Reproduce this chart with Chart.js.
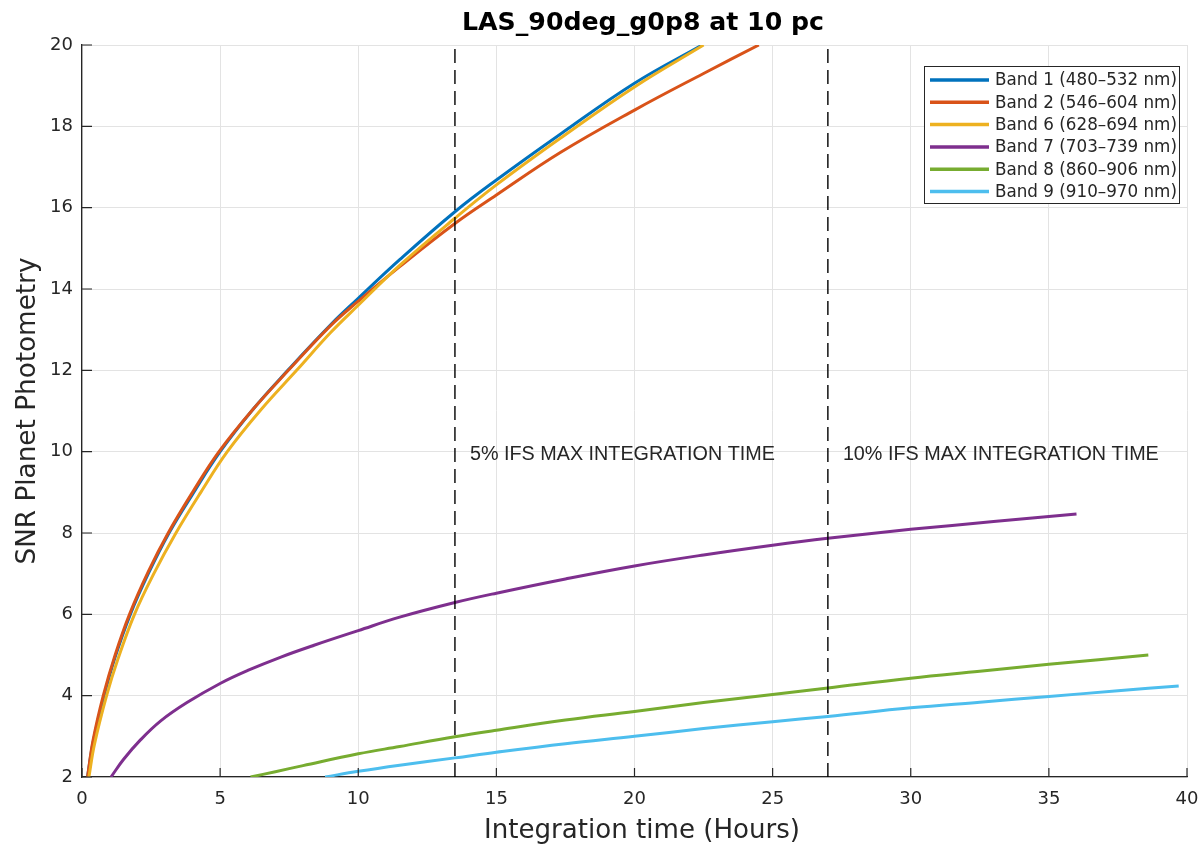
<!DOCTYPE html>
<html>
<head>
<meta charset="utf-8">
<script src="https://cdn.jsdelivr.net/npm/chart.js@4.4.1/dist/chart.umd.min.js"></script>
<style>
  html, body { margin: 0; padding: 0; background: #fff; }
  canvas { display: block; }
</style>
</head>
<body>
<canvas id="chart" width="1204" height="846"></canvas>
<script>
const chartTitle = 'LAS_90deg_g0p8 at 10 pc'
const xTitle = 'Integration time (Hours)'
const yTitle = 'SNR Planet Photometry'

const bandLabels = [
    'Band 1 (480–532 nm)',
    'Band 2 (546–604 nm)',
    'Band 6 (628–694 nm)',
    'Band 7 (703–739 nm)',
    'Band 8 (860–906 nm)',
    'Band 9 (910–970 nm)'
]
const bandColors = ['#0072BD', '#D95319', '#EDB120', '#7E2F8E', '#77AC30', '#4DBEEE']

// integration time (hours) and SNR
const band1Time = [0.2, 0.4, 0.8, 1.2, 1.75, 2.4, 3.15, 4, 5, 6.2, 7.45, 9, 10, 11.5, 13.5, 15, 17.3, 20, 22.45]
const band1Snr  = [2, 2.85, 4, 4.95, 6, 7.0, 8, 8.95, 10, 11.05, 12, 13.12, 13.77, 14.72, 15.9, 16.68, 17.8, 19.06, 20]

const band2Time = [0.2, 0.4, 0.77, 1.2, 1.72, 2.4, 3.12, 4, 4.96, 6.2, 7.47, 9, 10, 11.5, 13.5, 15, 17.3, 20, 22.5, 24.5]
const band2Snr  = [2, 2.9, 4, 5.0, 6, 7.05, 8, 9.0, 10, 11.05, 12, 13.1, 13.7, 14.55, 15.61, 16.31, 17.35, 18.4, 19.3, 20]

const band6Time = [0.25, 0.45, 0.89, 1.3, 1.9, 2.6, 3.4, 4.3, 5.26, 6.5, 7.77, 9, 10, 11.5, 13.5, 15, 17.3, 20, 22.5]
const band6Snr  = [2, 2.8, 4, 4.9, 6, 7.0, 8, 9.0, 10, 11.05, 12, 12.93, 13.6, 14.58, 15.74, 16.56, 17.7, 18.97, 20]

const band7Time = [1.05, 1.5, 2.1, 2.85, 3.8, 5, 6, 7.2, 8.4, 10, 11.5, 13.5, 15, 17.5, 20, 22.5, 25, 27, 30, 33, 36]
const band7Snr  = [2, 2.43, 2.9, 3.38, 3.83, 4.3, 4.62, 4.95, 5.24, 5.6, 5.93, 6.29, 6.52, 6.87, 7.19, 7.46, 7.7, 7.87, 8.09, 8.28, 8.47]

const band8Time = [6.1, 7, 8, 10, 11.5, 13.5, 15, 17.5, 20, 22.5, 25, 27, 30, 32.5, 35, 38.6]
const band8Snr  = [2, 2.13, 2.28, 2.57, 2.75, 2.99, 3.15, 3.4, 3.61, 3.83, 4.03, 4.19, 4.43, 4.6, 4.77, 5.0]

const band9Time = [8.8, 10, 11.5, 13.5, 15, 17.5, 20, 22.5, 25, 27, 30, 32.5, 35, 37.5, 39.7]
const band9Snr  = [2, 2.14, 2.29, 2.47, 2.61, 2.82, 3.0, 3.19, 3.36, 3.49, 3.7, 3.84, 3.98, 4.12, 4.24]

const bandTimes = [band1Time, band2Time, band6Time, band7Time, band8Time, band9Time]
const bandSnrs = [band1Snr, band2Snr, band6Snr, band7Snr, band8Snr, band9Snr]

// 5% and 10% of the IFS max integration time
const limitTimes = [13.5, 27]
const limitLabels = ['5% IFS MAX INTEGRATION TIME', '10% IFS MAX INTEGRATION TIME']

const xMin = 0, xMax = 40, xStep = 5
const yMin = 2, yMax = 20, yStep = 2

const ink = '#262626'
const tickFont = { family: 'DejaVu Sans', size: 18 }

// font size that makes text come out at a given width
function fitSize(ctx, text, weight, family, width) {
    ctx.font = weight + ' 100px ' + family
    return 100 * width / ctx.measureText(text).width
}

const datasets = bandLabels.map((label, i) => ({
    label: label,
    data: bandTimes[i].map((t, j) => ({ x: t, y: bandSnrs[i][j] })),
    borderColor: bandColors[i],
    borderWidth: 3,
    pointRadius: 0,
    showLine: true,
    tension: 0.4,
    order: 10 - i
}))

limitTimes.forEach(t => {
    datasets.push({
        label: '',
        data: [{ x: t, y: yMin }, { x: t, y: yMax }],
        borderColor: '#000',
        borderWidth: 1.4,
        borderDash: [14, 7],
        pointRadius: 0,
        showLine: true,
        order: 0
    })
})

const overlay = {
    id: 'overlay',
    afterDraw(chart) {
        const { ctx, chartArea: a, scales: { x, y } } = chart
        ctx.save()

        // inward tick marks
        ctx.strokeStyle = ink
        ctx.lineWidth = 1.2
        ctx.beginPath()
        x.ticks.forEach(t => {
            const px = x.getPixelForValue(t.value)
            ctx.moveTo(px, a.bottom)
            ctx.lineTo(px, a.bottom - 9)
        })
        y.ticks.forEach(t => {
            const py = y.getPixelForValue(t.value)
            ctx.moveTo(a.left, py)
            ctx.lineTo(a.left + 10, py)
        })
        ctx.stroke()

        // title
        ctx.fillStyle = '#000'
        let size = fitSize(ctx, chartTitle, 'bold', 'DejaVu Sans', 362)
        ctx.font = 'bold ' + size + 'px DejaVu Sans'
        ctx.textAlign = 'center'
        ctx.textBaseline = 'alphabetic'
        ctx.fillText(chartTitle, 643, 30)

        // axis titles
        ctx.fillStyle = ink
        size = fitSize(ctx, xTitle, 'normal', 'DejaVu Sans', 316)
        ctx.font = size + 'px DejaVu Sans'
        ctx.textBaseline = 'middle'
        ctx.fillText(xTitle, 642, 831)

        size = fitSize(ctx, yTitle, 'normal', 'DejaVu Sans', 307)
        ctx.save()
        ctx.translate(28, 411)
        ctx.rotate(-Math.PI / 2)
        ctx.font = size + 'px DejaVu Sans'
        ctx.fillText(yTitle, 0, 0)
        ctx.restore()

        // limit labels
        ctx.textAlign = 'left'
        const narrow = '"Liberation Sans Narrow", "Liberation Sans"'
        size = fitSize(ctx, limitLabels[0], 'normal', narrow, 305)
        ctx.font = size + 'px ' + narrow
        limitTimes.forEach((t, i) => {
            ctx.fillText(limitLabels[i], x.getPixelForValue(t) + 15, y.getPixelForValue(10) + 3)
        })

        // legend
        const box = { left: 924, top: 66, right: 1179, bottom: 203 }
        ctx.fillStyle = '#fff'
        ctx.fillRect(box.left, box.top, box.right - box.left, box.bottom - box.top)
        ctx.strokeStyle = ink
        ctx.lineWidth = 1
        ctx.strokeRect(box.left + 0.5, box.top + 0.5, box.right - box.left, box.bottom - box.top)
        size = fitSize(ctx, bandLabels[0], 'normal', 'DejaVu Sans', 182)
        ctx.font = size + 'px DejaVu Sans'
        bandLabels.forEach((label, i) => {
            const ly = 80 + i * 22.3
            ctx.strokeStyle = bandColors[i]
            ctx.lineWidth = 3.5
            ctx.beginPath()
            ctx.moveTo(930, ly)
            ctx.lineTo(989, ly)
            ctx.stroke()
            ctx.fillStyle = ink
            ctx.fillText(label, 995, ly + 1)
        })

        ctx.restore()
    }
}

new Chart(document.getElementById('chart').getContext('2d'), {
    type: 'scatter',
    data: { datasets: datasets },
    options: {
        responsive: false,
        animation: false,
        layout: { padding: { left: 0, top: 45, right: 17, bottom: 0 } },
        plugins: {
            legend: { display: false },
            tooltip: { enabled: false }
        },
        scales: {
            x: {
                type: 'linear',
                min: xMin,
                max: xMax,
                ticks: { stepSize: xStep, color: ink, font: tickFont, padding: 12, maxRotation: 0 },
                grid: { color: '#e3e3e3', lineWidth: 1, drawTicks: false },
                border: { display: true, color: ink, width: 1.3 },
                afterFit: s => { s.height = 69; s.paddingLeft = 0; s.paddingRight = 0 }
            },
            y: {
                type: 'linear',
                min: yMin,
                max: yMax,
                ticks: { stepSize: yStep, color: ink, font: tickFont, padding: 9 },
                grid: { color: '#e3e3e3', lineWidth: 1, drawTicks: false },
                border: { display: true, color: ink, width: 1.3 },
                afterFit: s => { s.width = 82; s.paddingTop = 0; s.paddingBottom = 0 }
            }
        }
    },
    plugins: [overlay]
})
</script>
</body>
</html>
